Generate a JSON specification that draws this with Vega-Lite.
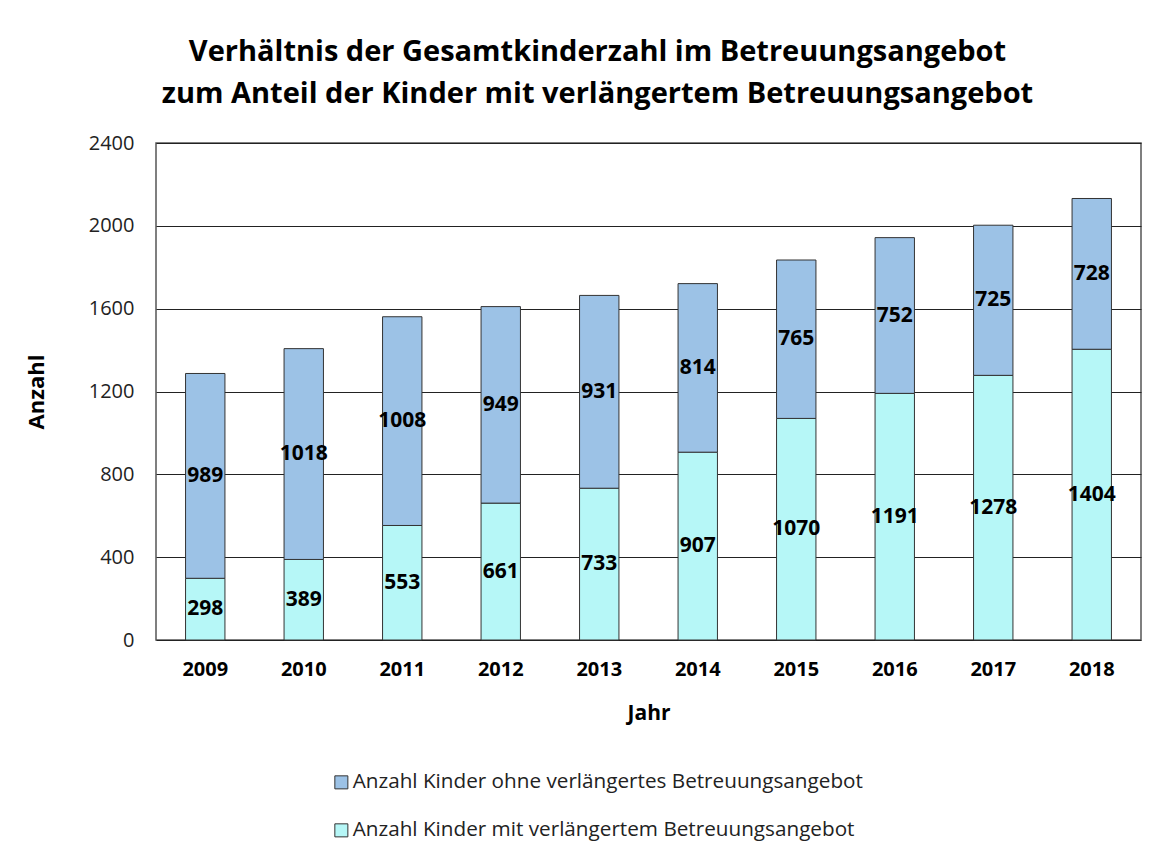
{
  "$schema": "https://vega.github.io/schema/vega-lite/v6.json",
  "width": 985,
  "height": 497,
  "autosize": {"type": "none"},
  "padding": {"left": 156, "top": 143, "right": 21, "bottom": 216},
  "background": "white",
  "title": {
    "text": ["Verhältnis der Gesamtkinderzahl im Betreuungsangebot", "zum Anteil der Kinder mit verlängertem Betreuungsangebot"],
    "font": "Open Sans",
    "fontSize": 29,
    "fontWeight": "bold",
    "color": "#000",
    "anchor": "middle",
    "frame": "group",
    "dx": -51,
    "offset": 24,
    "lineHeight": 42
  },
  "data": {
    "values": [
      {"jahr": "2009", "cat": "Anzahl Kinder mit verlängertem Betreuungsangebot", "wert": 298},
      {"jahr": "2009", "cat": "Anzahl Kinder ohne verlängertes Betreuungsangebot", "wert": 989},
      {"jahr": "2010", "cat": "Anzahl Kinder mit verlängertem Betreuungsangebot", "wert": 389},
      {"jahr": "2010", "cat": "Anzahl Kinder ohne verlängertes Betreuungsangebot", "wert": 1018},
      {"jahr": "2011", "cat": "Anzahl Kinder mit verlängertem Betreuungsangebot", "wert": 553},
      {"jahr": "2011", "cat": "Anzahl Kinder ohne verlängertes Betreuungsangebot", "wert": 1008},
      {"jahr": "2012", "cat": "Anzahl Kinder mit verlängertem Betreuungsangebot", "wert": 661},
      {"jahr": "2012", "cat": "Anzahl Kinder ohne verlängertes Betreuungsangebot", "wert": 949},
      {"jahr": "2013", "cat": "Anzahl Kinder mit verlängertem Betreuungsangebot", "wert": 733},
      {"jahr": "2013", "cat": "Anzahl Kinder ohne verlängertes Betreuungsangebot", "wert": 931},
      {"jahr": "2014", "cat": "Anzahl Kinder mit verlängertem Betreuungsangebot", "wert": 907},
      {"jahr": "2014", "cat": "Anzahl Kinder ohne verlängertes Betreuungsangebot", "wert": 814},
      {"jahr": "2015", "cat": "Anzahl Kinder mit verlängertem Betreuungsangebot", "wert": 1070},
      {"jahr": "2015", "cat": "Anzahl Kinder ohne verlängertes Betreuungsangebot", "wert": 765},
      {"jahr": "2016", "cat": "Anzahl Kinder mit verlängertem Betreuungsangebot", "wert": 1191},
      {"jahr": "2016", "cat": "Anzahl Kinder ohne verlängertes Betreuungsangebot", "wert": 752},
      {"jahr": "2017", "cat": "Anzahl Kinder mit verlängertem Betreuungsangebot", "wert": 1278},
      {"jahr": "2017", "cat": "Anzahl Kinder ohne verlängertes Betreuungsangebot", "wert": 725},
      {"jahr": "2018", "cat": "Anzahl Kinder mit verlängertem Betreuungsangebot", "wert": 1404},
      {"jahr": "2018", "cat": "Anzahl Kinder ohne verlängertes Betreuungsangebot", "wert": 728}
    ]
  },
  "encoding": {
    "x": {
      "field": "jahr",
      "type": "ordinal",
      "scale": {"paddingInner": 0.6, "paddingOuter": 0.3},
      "axis": {
        "title": "Jahr",
        "titleFont": "Open Sans",
        "titleFontSize": 21,
        "titleFontWeight": "bold",
        "titleColor": "#000",
        "titlePadding": 23,
        "labelFont": "Open Sans",
        "labelFontSize": 20,
        "labelFontWeight": "bold",
        "labelColor": "#000",
        "labelAngle": 0,
        "labelPadding": 19,
        "ticks": false,
        "domain": false
      }
    }
  },
  "layer": [
    {
      "mark": {"type": "bar", "stroke": "#333", "strokeWidth": 1},
      "encoding": {
        "y": {
          "field": "wert",
          "type": "quantitative",
          "stack": "zero",
          "scale": {"domain": [0, 2400]},
          "axis": {
            "title": "Anzahl",
            "titleFont": "Open Sans",
            "titleFontSize": 22,
            "titleFontWeight": "bold",
            "titleColor": "#000",
            "titlePadding": 40,
            "values": [0, 400, 800, 1200, 1600, 2000, 2400],
            "format": "d",
            "labelFont": "Open Sans",
            "labelFontSize": 20,
            "labelColor": "#222",
            "labelPadding": 22,
            "ticks": false,
            "domain": false,
            "grid": true,
            "gridColor": "#222",
            "gridWidth": 1,
            "gridOpacity": 1
          }
        },
        "color": {
          "field": "cat",
          "type": "nominal",
          "scale": {
            "domain": ["Anzahl Kinder ohne verlängertes Betreuungsangebot", "Anzahl Kinder mit verlängertem Betreuungsangebot"],
            "range": ["#9CC2E6", "#B6F7F7"]
          },
          "legend": {
            "title": null,
            "orient": "none",
            "legendX": 175,
            "legendY": 629,
            "direction": "vertical",
            "symbolType": "square",
            "symbolSize": 170,
            "symbolStrokeColor": "#333",
            "symbolStrokeWidth": 1,
            "labelFont": "Open Sans",
            "labelFontSize": 20.7,
            "labelColor": "#222",
            "labelLimit": 700,
            "rowPadding": 26,
            "labelOffset": 1
          }
        },
        "order": {"field": "cat", "sort": "ascending"}
      }
    },
    {
      "mark": {"type": "text", "font": "Open Sans", "fontSize": 21, "fontWeight": "bold", "color": "#000"},
      "encoding": {
        "y": {"field": "wert", "type": "quantitative", "stack": "zero", "bandPosition": 0.5},
        "detail": {"field": "cat"},
        "order": {"field": "cat", "sort": "ascending"},
        "text": {"field": "wert", "type": "quantitative"}
      }
    }
  ],
  "config": {
    "view": {"stroke": "#555", "strokeWidth": 1.5}
  }
}
